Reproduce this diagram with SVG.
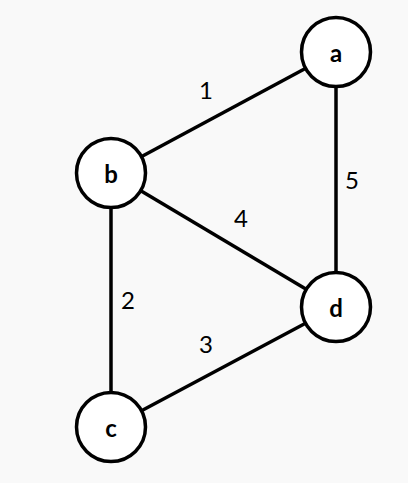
<svg xmlns="http://www.w3.org/2000/svg" width="408" height="483" viewBox="0 0 408 483">
<style>
.edge{stroke:#000;stroke-width:3.5;fill:none}
.node circle{fill:#fff;stroke:#000;stroke-width:3.5}
.node text{font-family:Lato,"Open Sans",sans-serif;font-weight:bold;font-size:24px;text-anchor:middle;dominant-baseline:central;fill:#000}
.lbl{font-family:Lato,"Open Sans",sans-serif;font-size:24px;text-anchor:middle;fill:#000}
</style>
<rect width="408" height="483" fill="#f9f9f9"/>
<g id="edges">
<line class="edge" x1="336" y1="52" x2="111" y2="173"/>
<line class="edge" x1="336" y1="52" x2="336" y2="307"/>
<line class="edge" x1="111" y1="173" x2="336" y2="307"/>
<line class="edge" x1="111" y1="173" x2="111" y2="427"/>
<line class="edge" x1="111" y1="427" x2="336" y2="307"/>
<text class="lbl" x="206" y="99">1</text>
<text class="lbl" x="352" y="189">5</text>
<text class="lbl" x="241" y="227">4</text>
<text class="lbl" x="128" y="309">2</text>
<text class="lbl" x="206" y="353">3</text>
</g>
<g id="node-a" class="node"><circle cx="336" cy="52" r="34.5"/><text x="336" y="52">a</text></g>
<g id="node-b" class="node"><circle cx="111" cy="173" r="34.5"/><text x="111" y="173">b</text></g>
<g id="node-c" class="node"><circle cx="111" cy="427" r="34.5"/><text x="111" y="427">c</text></g>
<g id="node-d" class="node"><circle cx="336" cy="307" r="34.5"/><text x="336" y="307">d</text></g>
</svg>
